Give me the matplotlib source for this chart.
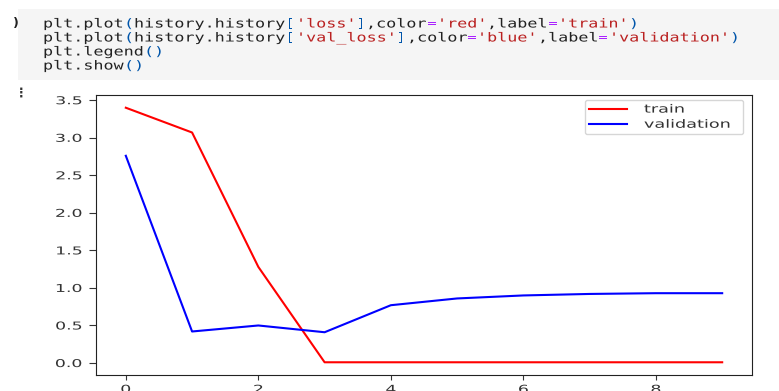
import numpy as np
import matplotlib
matplotlib.use("Agg")
import matplotlib.pyplot as plt
from matplotlib.patches import Rectangle
from matplotlib.patheffects import AbstractPathEffect
from matplotlib.transforms import Affine2D

# --- data ---
epochs = np.arange(10)
train_loss = [3.40, 3.07, 1.28, 0.01, 0.01, 0.01, 0.01, 0.01, 0.01, 0.01]
val_loss = [2.76, 0.42, 0.50, 0.41, 0.77, 0.86, 0.90, 0.92, 0.93, 0.93]
series_labels = ['train', 'validation']
series_colors = ['red', 'blue']
x_ticks = [0, 2, 4, 6, 8]
y_ticks = [0.0, 0.5, 1.0, 1.5, 2.0, 2.5, 3.0, 3.5]

code_lines = [
    "plt.plot(history.history['loss'],color='red',label='train')",
    "plt.plot(history.history['val_loss'],color='blue',label='validation')",
    "plt.legend()",
    "plt.show()",
]

W, H = 779, 391


class Stretch(AbstractPathEffect):
    # the screenshot is stretched horizontally, widen glyphs to match
    def __init__(self, sx, anchor='left'):
        super().__init__()
        self.sx = sx
        self.anchor = anchor

    def draw_path(self, renderer, gc, tpath, affine, rgbFace=None):
        ext = tpath.get_extents()
        if self.anchor == 'center':
            cx = (ext.x0 + ext.x1) / 2
        elif self.anchor == 'right':
            cx = ext.x1
        else:
            cx = 0
        a = Affine2D().translate(-cx, 0).scale(self.sx, 1).translate(cx, 0) + affine
        renderer.draw_path(gc, tpath, a, rgbFace)


def px(x, y):
    return x / W, 1 - y / H


fig = plt.figure(figsize=(W / 100, H / 100), dpi=100)

# --- notebook code cell ---
fig.patches.append(Rectangle(px(18, 80), (W - 18) / W, 71 / H, transform=fig.transFigure,
                             facecolor='#f5f5f5', edgecolor='none', zorder=0))
fig.text(*px(13, 27.5), ')', fontsize=9, fontweight='bold', color='#222222', ha='left', va='baseline')
fig.text(*px(15, 93), '\u22ee', fontsize=9, fontweight='bold', color='#333333', ha='left', va='center')

STR_COLOR, BRACKET_COLOR, OP_COLOR, TEXT_COLOR = '#ba2121', '#0055aa', '#aa22ff', '#222222'
char_w = 10.1
baselines = [27.5, 41.5, 55.5, 69.5]
for line, yb in zip(code_lines, baselines):
    kinds = []
    in_str = False
    for ch in line:
        if ch == "'":
            kinds.append(STR_COLOR)
            in_str = not in_str
        elif in_str:
            kinds.append(STR_COLOR)
        elif ch in '()[]':
            kinds.append(BRACKET_COLOR)
        elif ch == '=':
            kinds.append(OP_COLOR)
        else:
            kinds.append(TEXT_COLOR)
    start = 0
    for i in range(1, len(line) + 1):
        if i == len(line) or kinds[i] != kinds[start]:
            x0 = round(43 + start * char_w)
            t = fig.text(*px(x0, yb), line[start:i], family='DejaVu Sans Mono',
                         fontsize=9, color=kinds[start], ha='left', va='baseline')
            t.set_path_effects([Stretch(1.34)])
            start = i

# --- the plot ---
ax = fig.add_axes([96 / W, 16 / H, 656 / W, 280 / H])
ax.plot(epochs, train_loss, color=series_colors[0], label=series_labels[0], lw=1.5)
ax.plot(epochs, val_loss, color=series_colors[1], label=series_labels[1], lw=1.5)
ax.set_xticks(x_ticks)
ax.set_yticks(y_ticks)
ax.set_xticklabels([str(v) for v in x_ticks])
ax.set_yticklabels([f'{v:.1f}' for v in y_ticks])
ax.tick_params(axis='x', length=3.5, pad=3.5, labelsize=7.8, labelcolor='#333333', color='#333333')
ax.tick_params(axis='y', length=5, pad=5, labelsize=7.8, labelcolor='#333333', color='#333333')
for s in ax.spines.values():
    s.set_color('#222222')
for lab in ax.get_xticklabels():
    lab.set_path_effects([Stretch(1.6, 'center')])
for lab in ax.get_yticklabels():
    lab.set_path_effects([Stretch(1.6, 'right')])

leg = ax.legend(loc='upper right', bbox_to_anchor=(0.745, 0.0, 0.241, 0.982), mode='expand',
                borderaxespad=0, fontsize=8.2, handlelength=3.3, handletextpad=1.5,
                labelspacing=0.45, borderpad=0.4)
for t in leg.get_texts():
    t.set_color('#333333')
    t.set_path_effects([Stretch(1.55)])

fig.savefig('out.png', dpi=100)
